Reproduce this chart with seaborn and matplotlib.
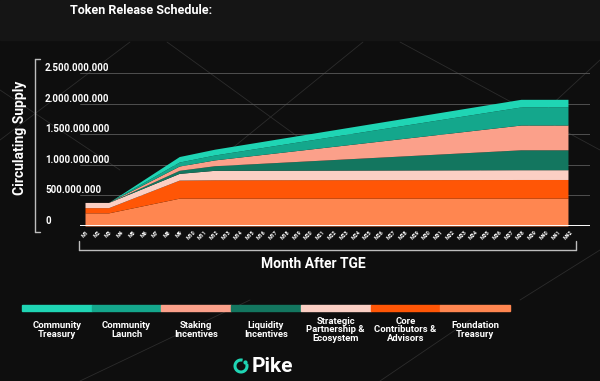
import numpy as np
import pandas as pd
import seaborn as sns
import matplotlib.pyplot as plt
import matplotlib.transforms as mtransforms
from matplotlib.lines import Line2D
from matplotlib.patches import Rectangle, Arc, Circle

# data (values in millions of tokens) at the break points
months = [1, 3, 9, 12, 38, 42]
foundation = [215, 215, 455, 455, 455, 455]
core = [85, 85, 295, 300, 305, 305]
strategic = [85, 85, 110, 155, 160, 160]
liquidity = [0, 0, 50, 75, 325, 325]
staking = [0, 0, 70, 95, 405, 405]
launch = [0, 0, 65, 80, 295, 295]
treasury = [0, 0, 90, 95, 125, 125]

month_labels = [f"M{i}" for i in range(1, 43)]
y_ticks = [0, 500_000_000, 1_000_000_000, 1_500_000_000, 2_000_000_000, 2_500_000_000]

legend_names = ["Community\nTreasury", "Community\nLaunch", "Staking\nIncentives",
                "Liquidity\nIncentives", "Strategic\nPartnership &\nEcosystem",
                "Core\nContributors &\nAdvisors", "Foundation\nTreasury"]
legend_colors = ["#1fd5b4", "#14a78c", "#fba08a", "#13765f", "#fbcfc4", "#ff5606", "#ff8650"]

BG = "#0e0e0e"
sns.set_theme(style="dark")
plt.rcParams['font.family'] = ['Roboto', 'DejaVu Sans']

W, H = 600, 381
fig = plt.figure(figsize=(6, 3.81), dpi=100, facecolor=BG)

# top header band
fig.patches.append(Rectangle((0, 1 - 40 / H), 1, 40 / H, transform=fig.transFigure,
                             color="#151515", zorder=0))

# faint decorative diagonals
for (x0, y0, x1, y1) in [(130, 42, 0, 140), (167, 42, 330, 160), (363, 42, 230, 150),
                         (400, 42, 600, 150), (0, 90, 120, 170), (600, 60, 470, 180),
                         (520, 300, 600, 250), (80, 381, 250, 300), (380, 381, 470, 320)]:
    fig.add_artist(Line2D([x0 / W, x1 / W], [1 - y0 / H, 1 - y1 / H], color="#2c2c2c",
                          lw=0.6, transform=fig.transFigure, zorder=0))

fig.text(70 / W, 1 - 11 / H, "Token Release Schedule:", color="white", fontsize=9,
         fontweight="bold", va="center", ha="left")

ax = fig.add_axes([80 / W, 1 - 226 / H, 510 / W, 153 / H])
ax.set_facecolor("none")

layers = [np.array(s) * 1e6 for s in [foundation, core, strategic, liquidity, staking, launch, treasury]]
layer_colors = legend_colors[::-1]
ax.stackplot(months, layers, colors=layer_colors, lw=0, zorder=2)

ax.set_xlim(0.576, 43.87)
ax.set_ylim(0, 2.5e9)
for s in ax.spines.values():
    s.set_visible(False)

for v in y_ticks[1:]:
    ax.axhline(v, color="#5a5a5a", lw=0.6, zorder=1)
ax.axhline(0, color="white", lw=1.4, zorder=3)

ax.set_yticks([])
ax.set_xticks(range(1, 43))
ax.set_xticklabels(month_labels, rotation=45, fontsize=3.8, color="white",
                   fontweight="bold", ha="center")
ax.tick_params(axis="x", length=0, pad=2.5)
ax.grid(False)

trans = mtransforms.blended_transform_factory(fig.transFigure, ax.transData)
for v in y_ticks:
    lab = f"{v:,}".replace(",", ".")
    ax.text(45 / W, v, lab, transform=trans, color="white", fontsize=7,
            fontweight="bold", ha="left", va="bottom")

# brackets round the axes
bc = "#bdbdbd"
for (x0, y0, x1, y1) in [(35, 59, 35, 232), (35, 59, 40, 59), (35, 232, 40, 232),
                         (79, 250, 576, 250), (79, 241, 79, 250), (576, 241, 576, 250)]:
    fig.add_artist(Line2D([x0 / W, x1 / W], [1 - y0 / H, 1 - y1 / H], color=bc,
                          lw=1.0, transform=fig.transFigure))

fig.text(20 / W, 1 - 138 / H, "Circulating Supply", color="white", fontsize=10,
         fontweight="bold", rotation=90, ha="center", va="center")
fig.text(313 / W, 1 - 264 / H, "Month After TGE", color="white", fontsize=10,
         fontweight="bold", ha="center", va="center")

# legend bar
seg_w = (510 - 22) / len(legend_names)
for i, (name, col) in enumerate(zip(legend_names, legend_colors)):
    x0 = 22 + i * seg_w
    fig.patches.append(Rectangle((x0 / W, 1 - 311 / H), seg_w / W, 6 / H,
                                 transform=fig.transFigure, color=col))
    fig.text((x0 + seg_w / 2) / W, 1 - 330 / H, name, color="white", fontsize=6.8,
             fontweight="bold", ha="center", va="center", linespacing=0.92)

# Pike logo
fig.text(252 / W, 1 - 366 / H, "Pike", color="white", fontsize=15,
         fontweight="bold", ha="left", va="center")
cx, cy = 2.41, (H - 366) / 100
fig.add_artist(Arc((cx, cy), 0.12, 0.12, theta1=75, theta2=20, color="#1fd5b4", lw=2.2,
                   transform=fig.dpi_scale_trans))
fig.add_artist(Circle((cx + 0.045, cy + 0.035), 0.014, color="#1fd5b4",
                      transform=fig.dpi_scale_trans))

fig.savefig("out.png", dpi=100, facecolor=BG)
